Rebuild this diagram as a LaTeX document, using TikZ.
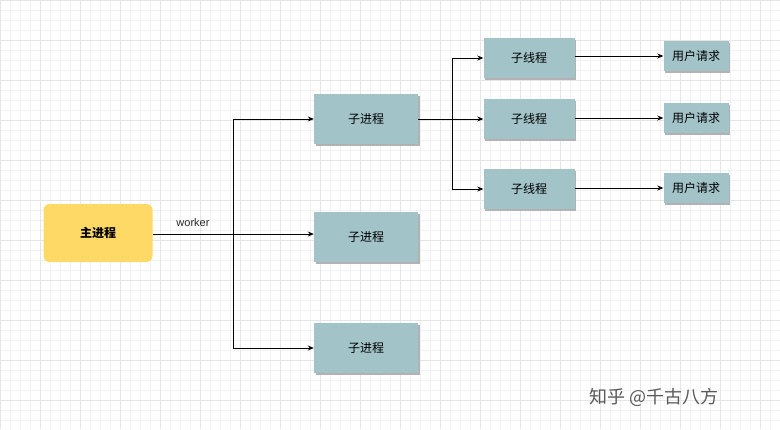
\documentclass[tikz,border=0pt]{standalone}
\usepackage{fontspec}
\setmainfont{Liberation Sans}
\newfontfamily\cjk{Noto Sans CJK SC}
\usetikzlibrary{arrows.meta,shadows}
\definecolor{teal}{HTML}{A2C4C9}
\definecolor{yel}{HTML}{FFD966}
\begin{document}
\begin{tikzpicture}[x=1pt,y=-1pt,
 box/.style={draw=none,fill=teal,font=\cjk\fontsize{12}{14}\selectfont,inner sep=0pt,
   drop shadow={shadow xshift=1.5pt,shadow yshift=-1.5pt,fill=black!30,opacity=1}},
 arr/.style={-{Stealth[length=6pt,width=5pt]},line width=0.8pt}]
\fill[white] (0,0) rectangle (780,429);
\useasboundingbox (0,0) rectangle (780,429);
\foreach \x in {0,10,...,780} \draw[black!5,line width=0.4pt] (\x,0) -- (\x,429);
\foreach \y in {0,10,...,429} \draw[black!5,line width=0.4pt] (0,\y) -- (780,\y);
\foreach \x in {0,40,...,780} \draw[black!10,line width=0.4pt] (\x,0) -- (\x,429);
\foreach \y in {0,40,...,429} \draw[black!10,line width=0.4pt] (0,\y) -- (780,\y);
\node[fill=yel,rounded corners=6pt,minimum width=109,minimum height=58,font=\cjk\bfseries\fontsize{12}{14}\selectfont] (m) at (98,233) {主进程};
\foreach \n/\y in {c1/119,c2/237,c3/348}
  \node[box,minimum width=104,minimum height=50] (\n) at (366,\y) {子进程};
\foreach \n/\y in {t1/58,t2/119,t3/189}
  \node[box,minimum width=91,minimum height=40] (\n) at (529,\y) {子线程};
\foreach \n/\y in {r1/56,r2/118,r3/188}
  \node[box,minimum width=65,minimum height=30] (\n) at (696,\y) {用户请求};
\coordinate (j) at (233,234);
\draw[line width=0.8pt] (m.east |- j) -- (j);
\node[font=\fontsize{11}{13}\selectfont,text=black!85,anchor=south] at (193,230) {worker};
\draw[arr] (j) -- (c2.west |- j);
\draw[arr] (j) |- (c1.west);
\draw[arr] (j) |- (c3.west);
\coordinate (k) at (452,119);
\draw[line width=0.8pt] (c1.east) -- (k);
\draw[arr] (k) -- (t2.west);
\draw[arr] (k) |- (t1.west);
\draw[arr] (k) |- (t3.west);
\foreach \i in {1,2,3} \draw[arr] (t\i.east |- r\i) -- (r\i.west);
\node[font=\cjk\fontsize{18}{20}\selectfont,text=black!65,anchor=west] (w) at (586,397) {知乎 @千古八方};
\end{tikzpicture}
\end{document}
